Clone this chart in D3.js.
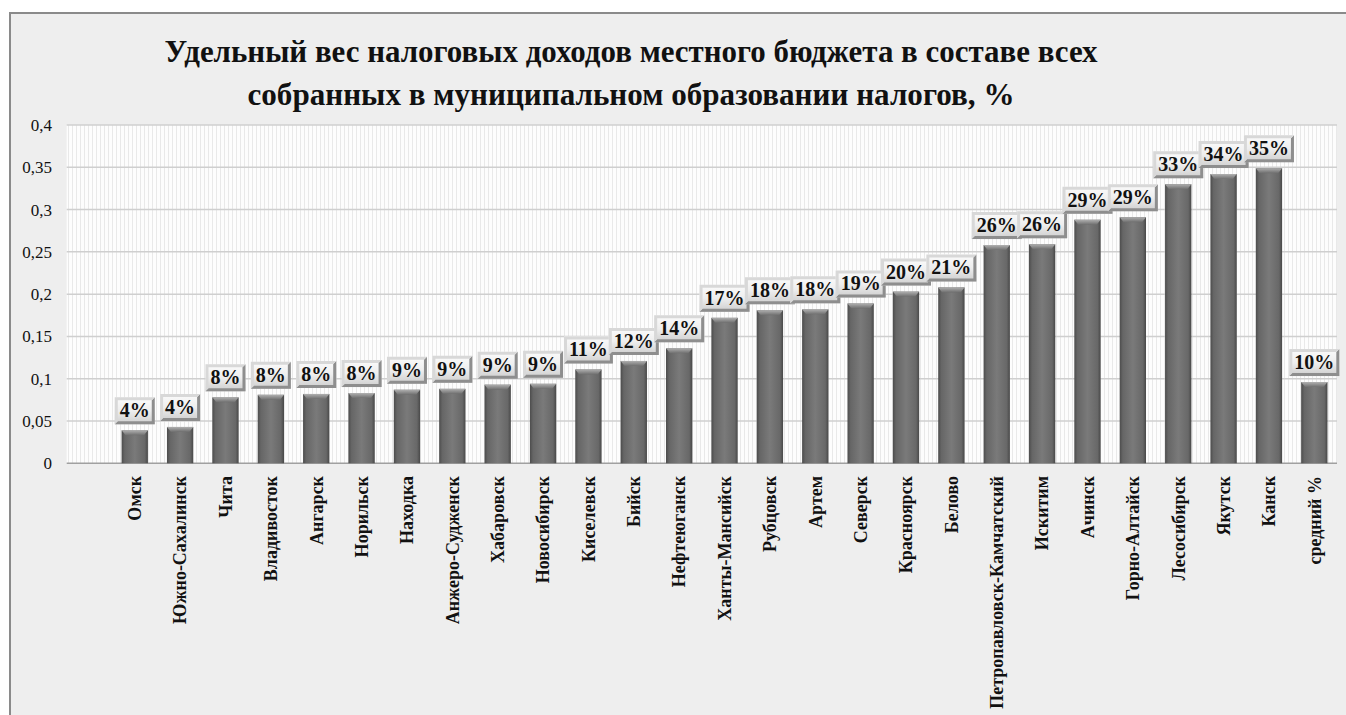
<!DOCTYPE html>
<html><head><meta charset="utf-8">
<script src="https://cdn.jsdelivr.net/npm/d3@7/dist/d3.min.js"></script>
<style>
html,body{margin:0;padding:0;background:#fff;}
svg{display:block;}
</style></head>
<body>
<svg id="c" width="1346" height="715"></svg>
<script>
const FONT = '"Liberation Serif", Tinos, "Times New Roman", Times, serif';
const titleLines = ["Удельный вес налоговых доходов местного бюджета в составе всех",
                    "собранных в муниципальном образовании налогов, %"];
const categories = ["", "Омск","Южно-Сахалинск","Чита","Владивосток","Ангарск","Норильск","Находка",
  "Анжеро-Судженск","Хабаровск","Новосибирск","Киселевск","Бийск","Нефтеюганск","Ханты-Мансийск",
  "Рубцовск","Артем","Северск","Красноярск","Белово","Петропавловск-Камчатский","Искитим","Ачинск",
  "Горно-Алтайск","Лесосибирск","Якутск","Канск","средний %"];
const values = [null, 0.039,0.043,0.078,0.081,0.082,0.083,0.087,0.088,0.093,0.094,0.111,0.121,0.136,
  0.172,0.181,0.182,0.189,0.203,0.208,0.258,0.259,0.288,0.291,0.330,0.342,0.349,0.096];
const yTicks = [0,0.05,0.1,0.15,0.2,0.25,0.3,0.35,0.4];

const svg = d3.select("#c");
const defs = svg.append("defs");

// background
svg.append("rect").attr("x",10).attr("y",13).attr("width",1346).attr("height",715).attr("fill","#eeeeee");
svg.append("line").attr("x1",9).attr("x2",1346).attr("y1",13).attr("y2",13).attr("stroke","#8a8a8a").attr("stroke-width",2);
svg.append("line").attr("x1",10).attr("x2",10).attr("y1",12).attr("y2",715).attr("stroke","#8a8a8a").attr("stroke-width",2);

const L = 66.7, R = 1337, T = 125, B = 463.3;
const x = d3.scaleBand().domain(d3.range(categories.length)).range([L,R]).paddingInner(0.42).paddingOuter(0.21);
const y = d3.scaleLinear().domain([0,0.4]).range([B,T]);

// plot area with fine vertical stripes
const pat = defs.append("pattern").attr("id","stripes").attr("patternUnits","userSpaceOnUse").attr("width",4).attr("height",10);
pat.append("rect").attr("width",4).attr("height",10).attr("fill","#fdfdfd");
pat.append("rect").attr("x",0).attr("width",1).attr("height",10).attr("fill","#e9e9e9");
svg.append("rect").attr("x",L).attr("y",T).attr("width",R-L).attr("height",B-T).attr("fill","url(#stripes)");

// gridlines
svg.append("g").selectAll("line").data(yTicks).join("line")
  .attr("x1",L).attr("x2",R).attr("y1",d=>y(d)).attr("y2",d=>y(d))
  .attr("stroke",d=>d===0?"#a0a0a0":"#cfcfcf").attr("stroke-width",1.5);

// y axis labels
const yAxis = d3.axisLeft(y).tickValues(yTicks).tickSize(0).tickPadding(0)
  .tickFormat(d=>String(+d.toFixed(2)).replace(".",","));
const gy = svg.append("g").attr("transform",`translate(52,0)`).call(yAxis);
gy.select(".domain").remove();
gy.attr("font-family",null);
gy.selectAll("text").style("font-family",FONT).attr("font-size",17).attr("fill","#111");

// gradients
const bg = defs.append("linearGradient").attr("id","barg").attr("x1","0").attr("x2","1").attr("y1","0").attr("y2","0");
[[0,"#4c4c4c"],[0.12,"#666"],[0.5,"#7a7a7a"],[0.88,"#686868"],[1,"#484848"]].forEach(s=>bg.append("stop").attr("offset",s[0]).attr("stop-color",s[1]));
const tg = defs.append("linearGradient").attr("id","topg").attr("x1","0").attr("x2","0").attr("y1","0").attr("y2","1");
[[0,"#b0b0b0"],[1,"#6e6e6e"]].forEach(s=>tg.append("stop").attr("offset",s[0]).attr("stop-color",s[1]));
const lg = defs.append("linearGradient").attr("id","labg").attr("x1","0").attr("x2","0").attr("y1","0").attr("y2","1");
[[0,"#fbfbfb"],[0.5,"#eeeeee"],[1,"#cdcdcd"]].forEach(s=>lg.append("stop").attr("offset",s[0]).attr("stop-color",s[1]));

const data = categories.map((c,i)=>({c,i,v:values[i]})).filter(d=>d.v!=null);
const bw = x.bandwidth();

// bars
const gb = svg.append("g");
gb.selectAll("rect.bar").data(data).join("rect").attr("class","bar")
  .attr("x",d=>x(d.i)).attr("width",bw).attr("y",d=>y(d.v)).attr("height",d=>B-y(d.v))
  .attr("fill","url(#barg)");
gb.selectAll("path.bev").data(data).join("path").attr("class","bev")
  .attr("d",d=>{const x0=x(d.i),y0=y(d.v);return `M${x0},${y0}L${x0+bw},${y0}L${x0+bw-4},${y0+5}L${x0+4},${y0+5}Z`;})
  .attr("fill","url(#topg)");

// value labels
const gl = svg.append("g");
data.forEach(d=>{
  const cx = x(d.i)+bw/2, top = y(d.v);
  const g = gl.append("g");
  const t = g.append("text").attr("x",cx).attr("y",top-13).attr("text-anchor","middle")
    .style("font-family",FONT).attr("font-size",20).attr("font-weight","bold").attr("fill","#111").text(Math.round(d.v*100)+"%");
  const w = t.node().getComputedTextLength()+10, h = 27;
  const bx = cx-w/2, by = top-6-h;
  g.insert("rect","text").attr("x",bx).attr("y",by).attr("width",w).attr("height",h).attr("fill","url(#labg)");
  g.insert("path","text").attr("d",`M${bx+w},${by}L${bx+w},${by+h}L${bx},${by+h}L${bx+3},${by+h-3}L${bx+w-3},${by+h-3}L${bx+w-3},${by+3}Z`).attr("fill","#8e8e8e");
  g.insert("path","text").attr("d",`M${bx},${by}L${bx+w},${by}L${bx+w-3},${by+3}L${bx+3},${by+3}L${bx+3},${by+h-3}L${bx},${by+h}Z`).attr("fill","#d8d8d8");
});

// category labels
svg.append("g").selectAll("text").data(data).join("text")
  .attr("transform",d=>`translate(${x(d.i)+bw/2},476) rotate(-90)`)
  .attr("text-anchor","end").attr("dy","0.35em")
  .style("font-family",FONT).attr("font-size",18).attr("font-weight","bold").attr("fill","#111").text(d=>d.c);

// title
const tt = svg.append("g");
tt.append("text").attr("x",631).attr("y",62).attr("text-anchor","middle").style("font-family",FONT).attr("font-size",31).attr("font-weight","bold")
  .attr("textLength",933).attr("lengthAdjust","spacingAndGlyphs").attr("fill","#111").text(titleLines[0]);
tt.append("text").attr("x",631).attr("y",105).attr("text-anchor","middle").style("font-family",FONT).attr("font-size",31).attr("font-weight","bold")
  .attr("textLength",767).attr("lengthAdjust","spacingAndGlyphs").attr("fill","#111").text(titleLines[1]);
</script>
</body></html>
